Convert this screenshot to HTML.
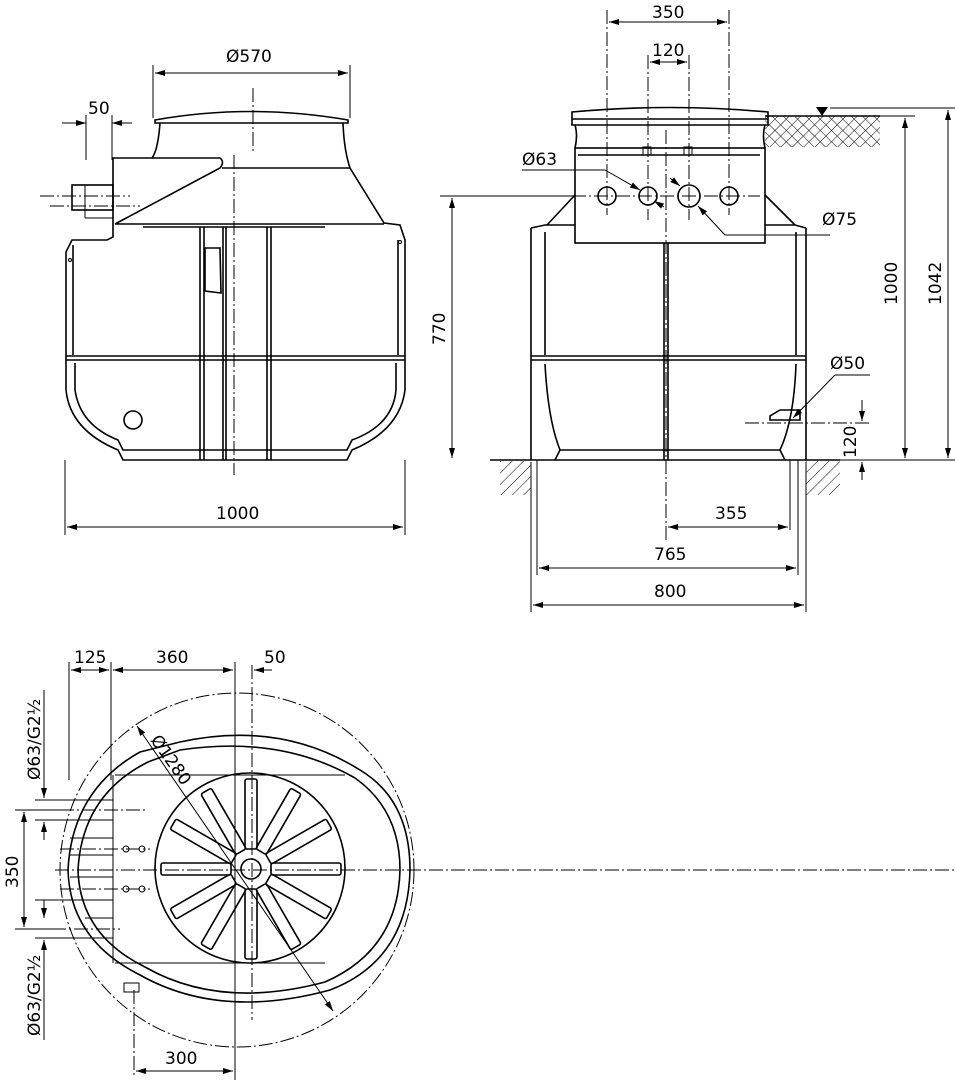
<!DOCTYPE html>
<html><head><meta charset="utf-8"><style>
html,body{margin:0;padding:0;background:#fff}
svg{display:block}
text{font-family:"DejaVu Sans","Liberation Sans",sans-serif;font-size:17px;fill:#000}
.l{stroke:#000;stroke-width:1.6;fill:none}
.t{stroke:#000;stroke-width:1;fill:none}
.c{stroke:#000;stroke-width:1;fill:none;stroke-dasharray:14 3 2 3}
</style></head><body>
<svg width="955" height="1080" viewBox="0 0 955 1080" xmlns="http://www.w3.org/2000/svg">
<defs>
<marker id="a" viewBox="0 0 10 6" refX="10" refY="3" markerWidth="10" markerHeight="6" orient="auto-start-reverse"><path d="M0,0L10,3L0,6z" fill="#000"/></marker>
<pattern id="h" width="8" height="8" patternUnits="userSpaceOnUse" patternTransform="rotate(45)"><line x1="0" y1="0" x2="0" y2="8" stroke="#000" stroke-width="1"/></pattern>
<pattern id="x" width="8" height="8" patternUnits="userSpaceOnUse" patternTransform="rotate(45)"><line x1="0" y1="0" x2="0" y2="8" stroke="#000" stroke-width="1"/><line x1="0" y1="0" x2="8" y2="0" stroke="#000" stroke-width="1"/></pattern>
</defs>

<!-- ========== LEFT VIEW ========== -->
<g>
<path class="l" d="M155,120 Q250,103 348,120 L348,123 L155,123 Z"/>
<path class="l" d="M160,123 Q158,150 152,158 L113,158 L113,237 L107,240 L72,240 L66,252 L66,360"/>
<path class="l" d="M343,123 Q344,150 350,168 L384,223 L400,225 L405,240 L405,360"/>
<path class="l" d="M152,158 L220,158 Q225,162 220,168 L115,224 L384,224"/>
<line class="l" x1="222" y1="168" x2="350" y2="168"/>
<rect class="l" x="72" y="185" width="41" height="25"/>
<line class="t" x1="85" y1="185" x2="85" y2="218"/>
<line class="t" x1="85" y1="218" x2="113" y2="218"/>
<line class="l" x1="143" y1="227" x2="325" y2="227"/>
<line class="l" x1="73" y1="245" x2="73" y2="355"/>
<line class="l" x1="398" y1="240" x2="398" y2="355"/>
<line class="l" x1="66" y1="356" x2="405" y2="356"/>
<line class="l" x1="66" y1="360" x2="405" y2="360"/>
<path class="l" d="M66,360 L66,390 Q70,430 118,450 L123,460 L347,460 L352,450 Q400,430 405,390 L405,360"/>
<path class="l" d="M75,363 L75,390 Q80,425 118,440 L123,450 L347,450 L352,440 Q393,425 396,390 L396,363"/>
<g class="l">
<line x1="200" y1="227" x2="200" y2="460"/><line x1="204" y1="227" x2="204" y2="460"/>
<line x1="223" y1="227" x2="223" y2="460"/><line x1="226" y1="227" x2="226" y2="460"/>
<line x1="267" y1="227" x2="267" y2="460"/><line x1="271" y1="227" x2="271" y2="460"/>
</g>
<path class="l" d="M205,248 L220,248 L221,293 L205,291 Z"/>
<circle class="l" cx="133" cy="420" r="9"/>
<circle class="t" cx="70" cy="260" r="1.5"/><circle class="t" cx="400" cy="242" r="1.5"/>
<line class="c" x1="253" y1="88" x2="253" y2="152"/>
<line class="c" x1="234" y1="155" x2="234" y2="475"/>
<line class="c" x1="40" y1="196" x2="130" y2="196"/>
<line class="c" x1="50" y1="206" x2="140" y2="206"/>
<line class="t" x1="153" y1="65" x2="153" y2="118"/><line class="t" x1="350" y1="65" x2="350" y2="118"/>
<line class="t" x1="155" y1="73" x2="348" y2="73" marker-start="url(#a)" marker-end="url(#a)"/>
<text x="226" y="62">Ø570</text>
<line class="t" x1="86" y1="115" x2="86" y2="160"/><line class="t" x1="112" y1="115" x2="112" y2="160"/>
<line class="t" x1="62" y1="123" x2="86" y2="123" marker-end="url(#a)"/><line class="t" x1="132" y1="123" x2="112" y2="123" marker-end="url(#a)"/>
<text x="88" y="114">50</text>
<line class="t" x1="65" y1="460" x2="65" y2="535"/><line class="t" x1="405" y1="460" x2="405" y2="535"/>
<line class="t" x1="67" y1="527" x2="403" y2="527" marker-start="url(#a)" marker-end="url(#a)"/>
<text x="216" y="519">1000</text>
</g>

<!-- ========== RIGHT VIEW ========== -->
<g>
<rect x="765" y="116" width="115" height="31" fill="url(#x)"/>
<line class="l" x1="765" y1="116" x2="880" y2="116"/>
<path d="M816,107 L828,107 L822,116 Z" fill="#000"/>
<rect x="500" y="461" width="340" height="34" fill="url(#h)"/>
<rect x="531" y="461" width="275" height="34" fill="#fff"/>
<line class="l" x1="490" y1="460" x2="840" y2="460"/>
<path class="l" d="M572,112 Q670,103 768,112 L768,125 L572,125 Z"/>
<line class="l" x1="572" y1="119" x2="768" y2="119"/>
<path class="l" d="M575,125 Q578,135 575,148 M765,125 Q762,135 765,148"/>
<rect class="l" x="575" y="148" width="190" height="95"/>
<line class="l" x1="578" y1="155" x2="760" y2="155"/>
<path class="l" d="M575,195 L547,225 M765,195 L795,225"/>
<path class="l" d="M531,228 L545,225 L575,225 M765,225 L795,225 L806,228"/>
<path class="l" d="M531,228 L531,460 M806,228 L806,460 M545,232 L545,355 M796,232 L796,355"/>
<line class="l" x1="531" y1="356" x2="806" y2="356"/><line class="l" x1="531" y1="360" x2="806" y2="360"/>
<path class="l" d="M545,364 Q548,420 560,450 L555,460 M796,364 Q794,420 780,450 L785,460"/>
<path class="l" d="M560,450 L780,450"/>
<line class="l" x1="664" y1="243" x2="664" y2="460"/><line class="l" x1="668" y1="243" x2="668" y2="460"/>
<rect x="643" y="147" width="8" height="8" class="t"/><rect x="684" y="147" width="8" height="8" class="t"/>
<circle class="l" cx="607" cy="196" r="9"/><circle class="l" cx="648" cy="196" r="9"/>
<circle class="l" cx="689" cy="196" r="11"/><circle class="l" cx="729" cy="196" r="9"/>
<path class="l" d="M770,420 L800,420 L800,410 L780,410 L770,416 Z"/>
<line class="c" x1="440" y1="196" x2="760" y2="196"/>
<line class="c" x1="648" y1="55" x2="648" y2="220"/><line class="c" x1="689" y1="55" x2="689" y2="220"/>
<line class="c" x1="607" y1="10" x2="607" y2="215"/><line class="c" x1="729" y1="10" x2="729" y2="215"/>
<line class="c" x1="666" y1="130" x2="666" y2="540"/>
<line class="c" x1="745" y1="423" x2="870" y2="423"/>
<line class="t" x1="609" y1="22" x2="727" y2="22" marker-start="url(#a)" marker-end="url(#a)"/><text x="652" y="18">350</text>
<line class="t" x1="650" y1="62" x2="687" y2="62" marker-start="url(#a)" marker-end="url(#a)"/><text x="652" y="56">120</text>
<line class="t" x1="522" y1="170" x2="605" y2="170"/><line class="t" x1="605" y1="170" x2="640" y2="190" marker-end="url(#a)"/>
<line class="t" x1="664" y1="207" x2="654" y2="201" marker-end="url(#a)"/>
<text x="522" y="165">Ø63</text>
<line class="t" x1="670" y1="178" x2="680" y2="186" marker-end="url(#a)"/>
<line class="t" x1="698" y1="206" x2="725" y2="235" marker-start="url(#a)"/><line class="t" x1="725" y1="235" x2="830" y2="235"/>
<text x="822" y="225">Ø75</text>
<line class="t" x1="440" y1="196" x2="575" y2="196"/>
<line class="t" x1="452" y1="198" x2="452" y2="458" marker-start="url(#a)" marker-end="url(#a)"/>
<text transform="translate(445,345) rotate(-90)">770</text>
<line class="t" x1="770" y1="116" x2="915" y2="116"/><line class="t" x1="830" y1="108" x2="955" y2="108"/>
<line class="t" x1="806" y1="460" x2="955" y2="460"/>
<line class="t" x1="905" y1="118" x2="905" y2="458" marker-start="url(#a)" marker-end="url(#a)"/>
<text transform="translate(897,305) rotate(-90)">1000</text>
<line class="t" x1="948" y1="110" x2="948" y2="458" marker-start="url(#a)" marker-end="url(#a)"/>
<text transform="translate(941,305) rotate(-90)">1042</text>
<line class="t" x1="862" y1="400" x2="862" y2="421" marker-end="url(#a)"/><line class="t" x1="862" y1="480" x2="862" y2="462" marker-end="url(#a)"/>
<text transform="translate(856,458) rotate(-90)">120</text>
<line class="t" x1="870" y1="375" x2="835" y2="375"/><line class="t" x1="835" y1="375" x2="793" y2="418" marker-end="url(#a)"/>
<text x="830" y="369">Ø50</text>
<line class="t" x1="537" y1="460" x2="537" y2="575"/><line class="t" x1="798" y1="460" x2="798" y2="575"/>
<line class="t" x1="531" y1="462" x2="531" y2="612"/><line class="t" x1="806" y1="462" x2="806" y2="612"/>
<line class="t" x1="790" y1="460" x2="790" y2="530"/>
<line class="t" x1="668" y1="527" x2="788" y2="527" marker-start="url(#a)" marker-end="url(#a)"/><text x="715" y="519">355</text>
<line class="t" x1="539" y1="568" x2="796" y2="568" marker-start="url(#a)" marker-end="url(#a)"/><text x="654" y="560">765</text>
<line class="t" x1="533" y1="605" x2="804" y2="605" marker-start="url(#a)" marker-end="url(#a)"/><text x="654" y="597">800</text>
</g>

<!-- ========== BOTTOM VIEW ========== -->
<g>
<circle class="c" cx="237" cy="870" r="177"/>
<path class="l" d="M180,742 Q280,720 360,770 Q410,800 410,870 Q408,960 330,990 Q220,1020 140,975 Q70,940 68,870 Q72,790 140,752 Z"/>
<path class="l" d="M180,750 Q280,735 355,778 Q400,810 400,870 Q398,950 325,982 Q220,1010 145,967 Q80,935 78,870 Q82,795 148,762 Z"/>
<path class="t" d="M115,775 L345,775 M115,963 L325,963 M113,775 L113,963"/>
<ellipse class="l" cx="250" cy="868" rx="95" ry="95"/>
<circle class="l" cx="251" cy="869" r="10"/>
<g class="l" transform="translate(251,869)">
<rect x="20" y="-6" width="70" height="12" rx="2"/>
<rect x="20" y="-6" width="70" height="12" rx="2" transform="rotate(30)"/>
<rect x="20" y="-6" width="70" height="12" rx="2" transform="rotate(60)"/>
<rect x="20" y="-6" width="70" height="12" rx="2" transform="rotate(90)"/>
<rect x="20" y="-6" width="70" height="12" rx="2" transform="rotate(120)"/>
<rect x="20" y="-6" width="70" height="12" rx="2" transform="rotate(150)"/>
<rect x="20" y="-6" width="70" height="12" rx="2" transform="rotate(180)"/>
<rect x="20" y="-6" width="70" height="12" rx="2" transform="rotate(210)"/>
<rect x="20" y="-6" width="70" height="12" rx="2" transform="rotate(240)"/>
<rect x="20" y="-6" width="70" height="12" rx="2" transform="rotate(270)"/>
<rect x="20" y="-6" width="70" height="12" rx="2" transform="rotate(300)"/>
<rect x="20" y="-6" width="70" height="12" rx="2" transform="rotate(330)"/>
</g>
<path class="t" d="M70,800 L113,800 M85,820 L113,820 M70,838 L113,838 M70,855 L113,855 M70,877 L113,877 M70,900 L113,900 M85,918 L113,918 M70,938 L113,938"/>
<circle class="t" cx="126" cy="849" r="3"/><circle class="t" cx="142" cy="849" r="3"/>
<circle class="t" cx="126" cy="889" r="3"/><circle class="t" cx="142" cy="889" r="3"/>
<rect class="t" x="124" y="983" width="15" height="9"/>
<line class="c" x1="55" y1="870" x2="955" y2="870"/>
<line class="c" x1="252" y1="665" x2="252" y2="1020"/>
<line class="c" x1="60" y1="810" x2="145" y2="810"/><line class="c" x1="30" y1="929" x2="120" y2="929"/>
<line class="c" x1="60" y1="849" x2="150" y2="849"/><line class="c" x1="60" y1="889" x2="150" y2="889"/>
<line class="c" x1="134" y1="990" x2="134" y2="1075"/>
<line class="t" x1="69" y1="662" x2="69" y2="780"/><line class="t" x1="111" y1="662" x2="111" y2="780"/>
<line class="t" x1="235" y1="662" x2="235" y2="1080"/>
<line class="t" x1="71" y1="670" x2="109" y2="670" marker-start="url(#a)" marker-end="url(#a)"/><text x="74" y="663">125</text>
<line class="t" x1="113" y1="670" x2="233" y2="670" marker-start="url(#a)" marker-end="url(#a)"/><text x="156" y="663">360</text>
<line class="t" x1="272" y1="670" x2="254" y2="670" marker-end="url(#a)"/><text x="264" y="663">50</text>
<line class="t" x1="136" y1="1071" x2="233" y2="1071" marker-start="url(#a)" marker-end="url(#a)"/><text x="165" y="1064">300</text>
<line class="t" x1="15" y1="810" x2="60" y2="810"/><line class="t" x1="15" y1="929" x2="60" y2="929"/>
<line class="t" x1="24" y1="812" x2="24" y2="927" marker-start="url(#a)" marker-end="url(#a)"/>
<text transform="translate(18,888) rotate(-90)">350</text>
<line class="t" x1="35" y1="800" x2="85" y2="800"/><line class="t" x1="35" y1="820" x2="85" y2="820"/>
<line class="t" x1="44" y1="780" x2="44" y2="798" marker-end="url(#a)"/><line class="t" x1="44" y1="840" x2="44" y2="822" marker-end="url(#a)"/>
<line class="t" x1="44" y1="690" x2="44" y2="780"/>
<line class="t" x1="35" y1="900" x2="85" y2="900"/><line class="t" x1="35" y1="938" x2="85" y2="938"/>
<line class="t" x1="44" y1="900" x2="44" y2="918" marker-end="url(#a)"/><line class="t" x1="44" y1="958" x2="44" y2="940" marker-end="url(#a)"/>
<line class="t" x1="44" y1="958" x2="44" y2="1040"/>
<text transform="translate(40,780) rotate(-90)">Ø63/G2½</text>
<text transform="translate(40,1036) rotate(-90)">Ø63/G2½</text>
<line class="t" x1="137" y1="726" x2="333" y2="1011" marker-start="url(#a)" marker-end="url(#a)"/>
<text transform="translate(150,740) rotate(55)">Ø1280</text>
</g>
</svg>
</body></html>
